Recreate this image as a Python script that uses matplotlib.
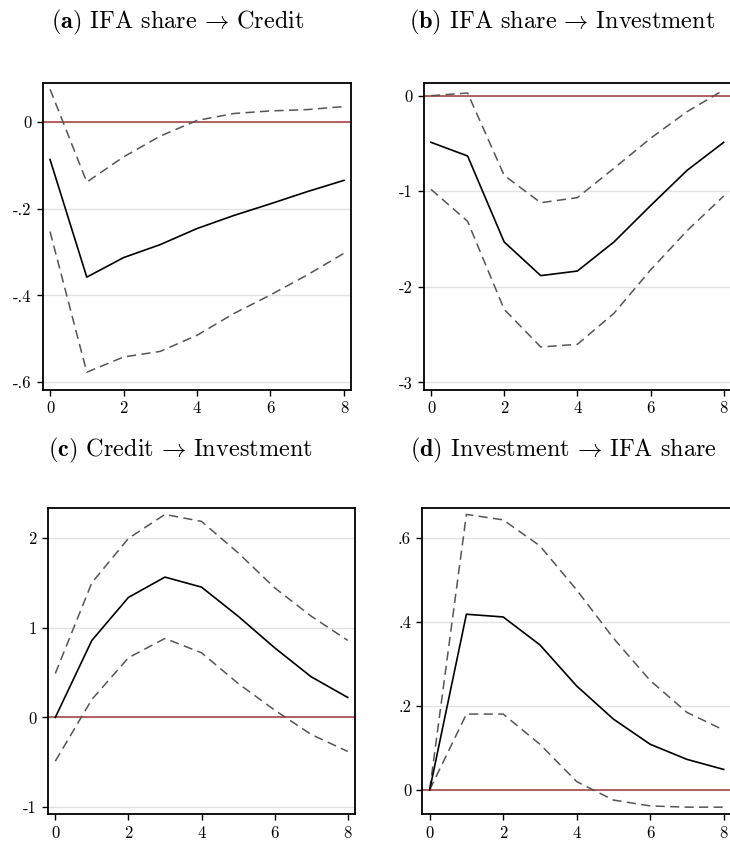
import numpy as np
import matplotlib
matplotlib.use("Agg")
import matplotlib.pyplot as plt

plt.rcParams["font.family"] = ["cmr10", "DejaVu Serif"]
plt.rcParams["mathtext.fontset"] = "cm"
plt.rcParams["axes.unicode_minus"] = False
plt.rcParams["axes.formatter.use_mathtext"] = True

horizon = [0, 1, 2, 3, 4, 5, 6, 7, 8]

# (a) IFA share -> Credit
a_mean = [-0.087, -0.358, -0.313, -0.283, -0.246, -0.216, -0.189, -0.161, -0.135]
a_upper = [0.075, -0.139, -0.081, -0.033, 0.003, 0.019, 0.025, 0.028, 0.035]
a_lower = [-0.253, -0.577, -0.542, -0.529, -0.492, -0.442, -0.399, -0.353, -0.303]

# (b) IFA share -> Investment
b_mean = [-0.488, -0.631, -1.531, -1.883, -1.835, -1.531, -1.151, -0.781, -0.488]
b_upper = [0.0, 0.028, -0.834, -1.12, -1.067, -0.760, -0.446, -0.167, 0.059]
b_lower = [-0.980, -1.315, -2.236, -2.630, -2.602, -2.278, -1.824, -1.413, -1.050]

# (c) Credit -> Investment
c_mean = [0.0, 0.86, 1.34, 1.567, 1.455, 1.131, 0.778, 0.454, 0.223]
c_upper = [0.491, 1.504, 1.999, 2.267, 2.189, 1.839, 1.448, 1.131, 0.86]
c_lower = [-0.488, 0.201, 0.666, 0.882, 0.722, 0.38, 0.082, -0.19, -0.38]

# (d) Investment -> IFA share
d_mean = [0.0, 0.419, 0.4125, 0.346, 0.248, 0.169, 0.109, 0.073, 0.049]
d_upper = [0.0, 0.657, 0.644, 0.582, 0.477, 0.362, 0.261, 0.185, 0.143]
d_lower = [0.0, 0.181, 0.181, 0.109, 0.020, -0.024, -0.038, -0.041, -0.041]

arrow = r"$\,\rightarrow\,$"
titles = [r"$\mathbf{(a)}$ IFA share" + arrow + "Credit",
          r"$\mathbf{(b)}$ IFA share" + arrow + "Investment",
          r"$\mathbf{(c)}$ Credit" + arrow + "Investment",
          r"$\mathbf{(d)}$ Investment" + arrow + "IFA share"]

a_ticks = [0, -0.2, -0.4, -0.6]
a_labels = ["0", "-.2", "-.4", "-.6"]
b_ticks = [0, -1, -2, -3]
b_labels = ["0", "-1", "-2", "-3"]
c_ticks = [-1, 0, 1, 2]
c_labels = ["-1", "0", "1", "2"]
d_ticks = [0, 0.2, 0.4, 0.6]
d_labels = ["0", ".2", ".4", ".6"]
x_ticks = [0, 2, 4, 6, 8]

W, H = 730, 841
fig = plt.figure(figsize=(W / 100, H / 100), dpi=100)


def rect(left, right, top, bottom):
    return [left / W, 1 - bottom / H, (right - left) / W, (bottom - top) / H]


panels = [
    (rect(42.7, 351.3, 82.7, 390), a_mean, a_upper, a_lower, a_ticks, a_labels, (-0.618, 0.09), (178, 22)),
    (rect(423.7, 731, 82.7, 390), b_mean, b_upper, b_lower, b_ticks, b_labels, (-3.08, 0.136), (562, 22)),
    (rect(48, 355, 507.7, 814.3), c_mean, c_upper, c_lower, c_ticks, c_labels, (-1.082, 2.342), (180, 450)),
    (rect(422.3, 731, 507.7, 814.3), d_mean, d_upper, d_lower, d_ticks, d_labels, (-0.058, 0.673), (563, 450)),
]

for (r, mean, up, lo, ticks, labels, ylim, tpos), title in zip(panels, titles):
    ax = fig.add_axes(r)
    for t in ticks:
        ax.axhline(t, color="#e2e2e2", lw=1.0, zorder=0)
    ax.axhline(0, color="#a8484c", lw=1.2, zorder=1)
    ax.plot(horizon, up, color="#555555", lw=1.1, dashes=(6, 3.5), zorder=2)
    ax.plot(horizon, lo, color="#555555", lw=1.1, dashes=(6, 3.5), zorder=2)
    ax.plot(horizon, mean, color="black", lw=1.2, zorder=3)
    ax.set_xlim(-0.2, 8.2)
    ax.set_ylim(*ylim)
    ax.set_xticks(x_ticks)
    ax.set_xticklabels([str(x) for x in x_ticks])
    ax.set_yticks(ticks)
    ax.set_yticklabels(labels)
    ax.tick_params(direction="out", length=4, width=1, labelsize=12, pad=4, color="black")
    for s in ax.spines.values():
        s.set_linewidth(1.3)
    fig.text(tpos[0] / W, 1 - tpos[1] / H, title, ha="center", va="center", fontsize=17.5)

fig.savefig("out.png", dpi=100)
